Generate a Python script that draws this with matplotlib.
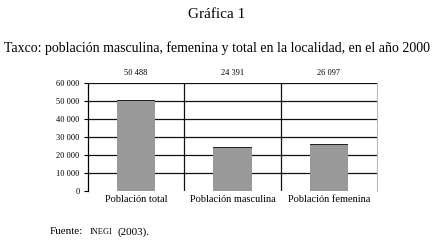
import matplotlib
matplotlib.use("Agg")
import matplotlib.pyplot as plt

categories = ["Población total", "Población masculina", "Población femenina"]
values = [50488, 24391, 26097]
value_labels = ["50 488", "24 391", "26 097"]
yticks = [0, 10000, 20000, 30000, 40000, 50000, 60000]
ytick_labels = ["0", "10 000", "20 000", "30 000", "40 000", "50 000", "60 000"]

plt.rcParams["font.family"] = ["Liberation Serif", "DejaVu Serif"]

fig = plt.figure(figsize=(4.33, 2.42), dpi=100)
ax = fig.add_axes([88 / 433, 51 / 242, 289 / 433, 108 / 242])

x = list(range(len(categories)))
ax.bar(x, values, width=0.4, color="#999999", edgecolor="none", zorder=3)
# dark cap on each bar
ax.bar(x, [600] * len(values), bottom=[v - 600 for v in values], width=0.4,
       color="#222222", edgecolor="none", zorder=4)

for yv in yticks[1:]:
    ax.axhline(yv, color="#111111", lw=0.9, zorder=1)
for sep in [0.5, 1.5]:
    ax.axvline(sep, color="#111111", lw=0.9, zorder=1)

ax.set_xlim(-0.5, 2.5)
ax.set_ylim(0, 60000)
ax.set_yticks(yticks)
ax.set_yticklabels(ytick_labels, fontsize=6)
ax.set_xticks(x)
ax.set_xticklabels(categories, fontsize=7.5)
ax.tick_params(axis="x", length=0, pad=3)
ax.tick_params(axis="y", length=3, width=0.8, pad=3, direction="out")

for s in ["top", "bottom"]:
    ax.spines[s].set_visible(False)
ax.spines["left"].set_linewidth(0.9)
ax.spines["right"].set_color("#bbbbbb")
ax.spines["right"].set_linewidth(0.8)

for xi, lab in zip(x, value_labels):
    ax.text(xi, 63500, lab, ha="center", va="bottom", fontsize=6)

fig.text(0.5, 1 - 15 / 242, "Gráfica 1", ha="center", va="center", fontsize=11)
fig.text(0.5, 1 - 48 / 242,
         "Taxco: población masculina, femenina y total en la localidad, en el año 2000",
         ha="center", va="center", fontsize=10)

fy = 1 - 232 / 242
fig.text(50 / 433, fy, "Fuente:", ha="left", va="center", fontsize=8)
fig.text(90 / 433, fy, "INEGI", ha="left", va="center", fontsize=6)
fig.text(117 / 433, fy, "(2003).", ha="left", va="center", fontsize=8)

fig.savefig("out.png", dpi=100)
